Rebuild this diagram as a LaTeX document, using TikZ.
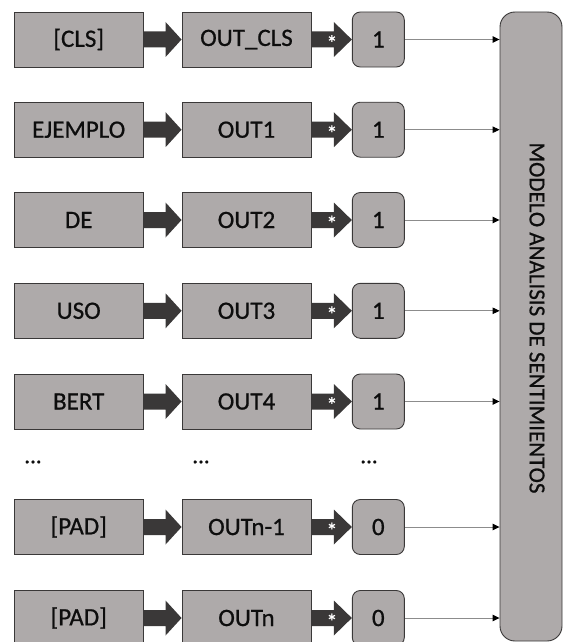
\documentclass[tikz,border=0pt]{standalone}
\usepackage{fontspec}
\setmainfont{Carlito}
\newfontfamily\labelfont[FakeBold=0.7]{Carlito}
\usetikzlibrary{arrows.meta,calc}

\definecolor{boxfill}{HTML}{AEAAAA}
\definecolor{boxline}{HTML}{3A3838}
\definecolor{arrowfill}{HTML}{3A3838}
\definecolor{textcol}{HTML}{0D0D0D}
\definecolor{linkcol}{HTML}{8C8C8C}

\tikzset{
  every node/.style={text=textcol, font=\labelfont\fontsize{25}{29}\selectfont},
  tokenbox/.style={draw=boxline, line width=0.9pt, fill=boxfill,
    minimum width=129pt, minimum height=55pt, inner sep=0pt},
  maskbox/.style={draw=boxline, line width=0.9pt, fill=boxfill,
    rounded corners=8pt, minimum width=52pt, minimum height=55pt, inner sep=0pt},
  modelbox/.style={draw=boxline, line width=0.9pt, fill=boxfill,
    rounded corners=15pt, minimum width=62pt, minimum height=629pt, inner sep=0pt},
  modellabel/.style={rotate=-90, font=\labelfont\fontsize{23}{27}\selectfont},
  blockarrow/.style={fill=arrowfill, draw=none},
  starmark/.style={text=white, font=\labelfont\fontsize{22}{22}\selectfont, inner sep=0pt},
  dotsmark/.style={font=\labelfont\fontsize{23}{27}\selectfont, inner sep=0pt},
  link/.style={draw=linkcol, line width=0.9pt, -{Triangle[black,length=7pt,width=6.5pt]}},
}

\begin{document}
\begin{tikzpicture}[x=1pt, y=-1pt]
  \useasboundingbox (0,0) rectangle (564,642);

  % classifier block on the right
  \node[modelbox] (model) at (531,326.5) {};
  \node[modellabel] (modeltext) at (537,318) {MODELO ANALISIS DE SENTIMIENTOS};

  % token -> output -> mask rows
  \foreach \i/\y/\tok/\out/\m in {
      1/39.5/{[CLS]}/{OUT\_CLS}/1,
      2/129.7/EJEMPLO/OUT1/1,
      3/220/DE/OUT2/1,
      4/310.8/USO/OUT3/1,
      5/401.5/BERT/OUT4/1,
      6/527/{[PAD]}/{OUTn-1}/0,
      7/618/{[PAD]}/OUTn/0} {
    \node[tokenbox] (tok\i) at (78.7,\y) {\tok};
    \node[tokenbox] (out\i) at (246.5,\y) {\out};
    \node[maskbox]  (mask\i) at (378.3,\y) {\m};

    % thick block arrows between the boxes
    \fill[blockarrow] ($(tok\i.east)+(0,-8)$) -- ($(out\i.west)+(-16,-8)$)
      -- ($(out\i.west)+(-16,-17.5)$) -- (out\i.west)
      -- ($(out\i.west)+(-16,17.5)$) -- ($(out\i.west)+(-16,8)$)
      -- ($(tok\i.east)+(0,8)$) -- cycle;
    \fill[blockarrow] ($(out\i.east)+(0,-8)$) -- ($(mask\i.west)+(-18,-8)$)
      -- ($(mask\i.west)+(-18,-17.5)$) -- (mask\i.west)
      -- ($(mask\i.west)+(-18,17.5)$) -- ($(mask\i.west)+(-18,8)$)
      -- ($(out\i.east)+(0,8)$) -- cycle;
    \node[starmark] (star\i) at ($(out\i.east)+(20.5,3.5)$) {*};

    % thin connector into the model
    \draw[link] (mask\i.east) -- (mask\i.east -| model.west);
  }

  % ellipsis row
  \node[dotsmark] (dotsA) at (33,462) {...};
  \node[dotsmark] (dotsB) at (201,462) {...};
  \node[dotsmark] (dotsC) at (369,462) {...};
\end{tikzpicture}
\end{document}
